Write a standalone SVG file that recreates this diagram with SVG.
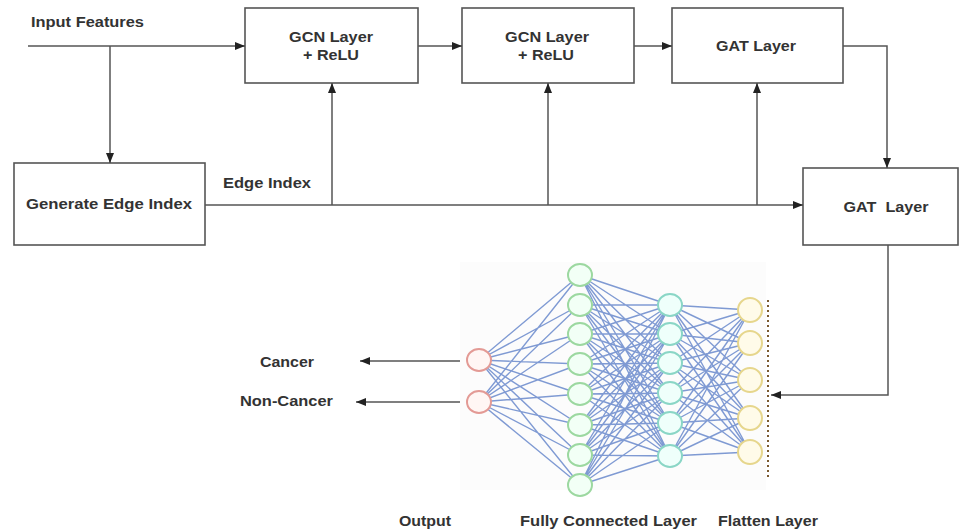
<svg xmlns="http://www.w3.org/2000/svg" width="962" height="530" viewBox="0 0 962 530">
<defs>
<marker id="arr" markerWidth="10" markerHeight="8" refX="10" refY="4" orient="auto" markerUnits="userSpaceOnUse">
<path d="M0,0 L10,4 L0,8 z" fill="#222"/>
</marker>
<style>
.box{fill:#fff;stroke:#555;stroke-width:1.6}
.t{font-family:"Liberation Sans",Arial,sans-serif;font-weight:bold;font-size:14px;fill:#333}
.c{text-anchor:middle}
.con{fill:none;stroke:#555;stroke-width:1.5}
.edge{fill:none;stroke:#4a70c2;stroke-width:1.4;stroke-opacity:0.7}
.nr{fill:#fff6f4;stroke:#e39a95;stroke-width:2}
.ng{fill:#f2fff6;stroke:#9cd8a0;stroke-width:2}
.nt{fill:#effffb;stroke:#8ad6c6;stroke-width:2}
.ny{fill:#fffbe9;stroke:#e6d68c;stroke-width:2}
</style>
</defs>
<rect width="962" height="530" fill="#fff"/>

<text class="t" x="31" y="27" textLength="113" lengthAdjust="spacingAndGlyphs">Input Features</text>
<text class="t" x="223" y="188" textLength="88" lengthAdjust="spacingAndGlyphs">Edge Index</text>

<g id="gcn1">
<rect class="box" x="245" y="8" width="173" height="75"/>
<text class="t c" x="331" y="42" textLength="84" lengthAdjust="spacingAndGlyphs">GCN Layer</text>
<text class="t c" x="331" y="60" textLength="56" lengthAdjust="spacingAndGlyphs">+ ReLU</text>
</g>
<g id="gcn2">
<rect class="box" x="462" y="8" width="172" height="75"/>
<text class="t c" x="547" y="42" textLength="84" lengthAdjust="spacingAndGlyphs">GCN Layer</text>
<text class="t c" x="546" y="60" textLength="56" lengthAdjust="spacingAndGlyphs">+ ReLU</text>
</g>
<g id="gat1">
<rect class="box" x="672" y="8" width="171" height="75"/>
<text class="t c" x="756" y="51" textLength="80" lengthAdjust="spacingAndGlyphs">GAT Layer</text>
</g>
<g id="gat2">
<rect class="box" x="803" y="168" width="155" height="77"/>
<text class="t c" x="886" y="212" textLength="85" lengthAdjust="spacingAndGlyphs" xml:space="preserve">GAT  Layer</text>
</g>
<g id="edgeidx">
<rect class="box" x="14" y="163" width="191" height="82"/>
<text class="t c" x="109" y="209" textLength="166" lengthAdjust="spacingAndGlyphs">Generate Edge Index</text>
</g>

<g id="connectors">
<path class="con" d="M28,46 H245" marker-end="url(#arr)"/>
<path class="con" d="M110,46 V163" marker-end="url(#arr)"/>
<path class="con" d="M418,46 H462" marker-end="url(#arr)"/>
<path class="con" d="M634,46 H672" marker-end="url(#arr)"/>
<path class="con" d="M843,46 H887 V168" marker-end="url(#arr)"/>
<path class="con" d="M205,205 H803" marker-end="url(#arr)"/>
<path class="con" d="M332,205 V83" marker-end="url(#arr)"/>
<path class="con" d="M548,205 V83" marker-end="url(#arr)"/>
<path class="con" d="M757,205 V83" marker-end="url(#arr)"/>
<path class="con" d="M888,245 V395 H771" marker-end="url(#arr)"/>
<path class="con" d="M467,361 H360" marker-end="url(#arr)"/>
<path class="con" d="M467,402 H356" marker-end="url(#arr)"/>
</g>

<g id="network">
<rect x="460" y="262" width="306" height="228" fill="#fcfcfc"/>
<path class="edge" d="M479 360L580 275M479 360L580 305M479 360L580 334M479 360L580 364M479 360L580 394M479 360L580 425M479 360L580 455M479 360L580 485M479 402L580 275M479 402L580 305M479 402L580 334M479 402L580 364M479 402L580 394M479 402L580 425M479 402L580 455M479 402L580 485"/>
<path class="edge" d="M580 275L670 305M580 275L670 334M580 275L670 363M580 275L670 393M580 275L670 423M580 275L670 456M580 305L670 305M580 305L670 334M580 305L670 363M580 305L670 393M580 305L670 423M580 305L670 456M580 334L670 305M580 334L670 334M580 334L670 363M580 334L670 393M580 334L670 423M580 334L670 456M580 364L670 305M580 364L670 334M580 364L670 363M580 364L670 393M580 364L670 423M580 364L670 456M580 394L670 305M580 394L670 334M580 394L670 363M580 394L670 393M580 394L670 423M580 394L670 456M580 425L670 305M580 425L670 334M580 425L670 363M580 425L670 393M580 425L670 423M580 425L670 456M580 455L670 305M580 455L670 334M580 455L670 363M580 455L670 393M580 455L670 423M580 455L670 456M580 485L670 305M580 485L670 334M580 485L670 363M580 485L670 393M580 485L670 423M580 485L670 456"/>
<path class="edge" d="M670 305L750 310M670 305L750 343M670 305L750 380M670 305L750 418M670 305L750 452M670 334L750 310M670 334L750 343M670 334L750 380M670 334L750 418M670 334L750 452M670 363L750 310M670 363L750 343M670 363L750 380M670 363L750 418M670 363L750 452M670 393L750 310M670 393L750 343M670 393L750 380M670 393L750 418M670 393L750 452M670 423L750 310M670 423L750 343M670 423L750 380M670 423L750 418M670 423L750 452M670 456L750 310M670 456L750 343M670 456L750 380M670 456L750 418M670 456L750 452"/>
<g id="output-layer">
<ellipse class="nr" cx="479" cy="360" rx="12" ry="11"/>
<ellipse class="nr" cx="479" cy="402" rx="12" ry="11"/>
</g>
<g id="fc-layer-1">
<ellipse class="ng" cx="580" cy="275" rx="12" ry="11"/>
<ellipse class="ng" cx="580" cy="305" rx="12" ry="11"/>
<ellipse class="ng" cx="580" cy="334" rx="12" ry="11"/>
<ellipse class="ng" cx="580" cy="364" rx="12" ry="11"/>
<ellipse class="ng" cx="580" cy="394" rx="12" ry="11"/>
<ellipse class="ng" cx="580" cy="425" rx="12" ry="11"/>
<ellipse class="ng" cx="580" cy="455" rx="12" ry="11"/>
<ellipse class="ng" cx="580" cy="485" rx="12" ry="11"/>
</g>
<g id="fc-layer-2">
<ellipse class="nt" cx="670" cy="305" rx="12" ry="11"/>
<ellipse class="nt" cx="670" cy="334" rx="12" ry="11"/>
<ellipse class="nt" cx="670" cy="363" rx="12" ry="11"/>
<ellipse class="nt" cx="670" cy="393" rx="12" ry="11"/>
<ellipse class="nt" cx="670" cy="423" rx="12" ry="11"/>
<ellipse class="nt" cx="670" cy="456" rx="12" ry="11"/>
</g>
<g id="flatten-layer">
<ellipse class="ny" cx="750" cy="310" rx="12" ry="12"/>
<ellipse class="ny" cx="750" cy="343" rx="12" ry="12"/>
<ellipse class="ny" cx="750" cy="380" rx="12" ry="12"/>
<ellipse class="ny" cx="750" cy="418" rx="12" ry="12"/>
<ellipse class="ny" cx="750" cy="452" rx="12" ry="12"/>
</g>
<path d="M768,300 V477" stroke="#7a5a30" stroke-width="2" stroke-dasharray="2,3" fill="none"/>
</g>

<text class="t" x="260" y="367" textLength="54" lengthAdjust="spacingAndGlyphs">Cancer</text>
<text class="t" x="240" y="406" textLength="93" lengthAdjust="spacingAndGlyphs">Non-Cancer</text>
<text class="t" x="399" y="526" textLength="52" lengthAdjust="spacingAndGlyphs">Output</text>
<text class="t" x="520" y="526" textLength="177" lengthAdjust="spacingAndGlyphs">Fully Connected Layer</text>
<text class="t" x="718" y="526" textLength="100" lengthAdjust="spacingAndGlyphs">Flatten Layer</text>
</svg>
